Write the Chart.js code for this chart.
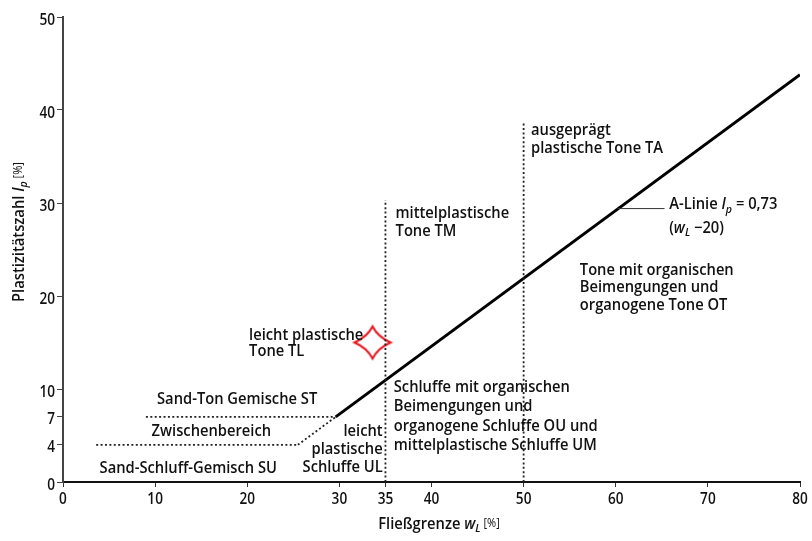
<!DOCTYPE html>
<html>
<head>
<meta charset="utf-8">
<script src="https://cdn.jsdelivr.net/npm/chart.js@4/dist/chart.umd.min.js"></script>
<style>
html,body{margin:0;padding:0;background:#fff;}
#wrap{width:812px;height:541px;position:relative;}
</style>
</head>
<body>
<div id="wrap"><canvas id="c" width="812" height="541"></canvas></div>
<script>
// ---- data ----
const xTickValues = [0, 10, 20, 30, 35, 40, 50, 60, 70, 80];
const yTickValues = [0, 4, 7, 10, 20, 30, 40, 50];
const aLineX = [29.6, 80];
const aLineY = [7, 43.8];
const aLineLowX = [25.5, 29.6];
const aLineLowY = [4, 7];
const line7X = [9, 29.6];
const line7Y = [7, 7];
const line4X = [3.6, 25.5];
const line4Y = [4, 4];
const v35X = [35, 35];
const v35Y = [0, 30.3];
const v50X = [50, 50];
const v50Y = [0, 38.8];
const calloutX = [60.2, 65.3];
const calloutY = [29.4, 29.4];
const markerX = [33.6];
const markerY = [15];

const pts = (xs, ys) => xs.map((x, i) => ({x, y: ys[i]}));

const FONT = "'Open Sans','DejaVu Sans',sans-serif";
const WEIGHT = '600';
const TXT = '#111';

// star point image
const star = document.createElement('canvas');
star.width = 42; star.height = 38;
(function(){
  const g = star.getContext('2d');
  const cx = 21, cy = 19, rx = 18, ry = 16, k = 5.5;
  g.beginPath();
  g.moveTo(cx, cy - ry);
  g.quadraticCurveTo(cx + k, cy - k, cx + rx, cy);
  g.quadraticCurveTo(cx + k, cy + k, cx, cy + ry);
  g.quadraticCurveTo(cx - k, cy + k, cx - rx, cy);
  g.quadraticCurveTo(cx - k, cy - k, cx, cy - ry);
  g.closePath();
  g.fillStyle = '#fff';
  g.fill();
  g.strokeStyle = '#e5121b';
  g.lineWidth = 2;
  g.lineJoin = 'miter';
  g.stroke();
})();

// rich text helper (horizontally condensed)
function fontFor(s, size) {
  const fs = s.sub ? size * 0.72 : (s.small ? size * 0.75 : size);
  return (s.italic ? 'italic ' : '') + (s.small ? '400 ' : WEIGHT + ' ') + fs + 'px ' + FONT;
}
function drawRich(ctx, x, y, segs, size, align, sx) {
  sx = sx || 0.92;
  let total = 0;
  segs.forEach(s => { ctx.font = fontFor(s, size); s._w = ctx.measureText(s.t).width; total += s._w; });
  let start = align === 'center' ? x - total * sx / 2 : (align === 'right' ? x - total * sx : x);
  ctx.save();
  ctx.translate(start, y);
  ctx.scale(sx, 1);
  ctx.textBaseline = 'middle';
  ctx.textAlign = 'left';
  let cx = 0;
  segs.forEach(s => {
    ctx.font = fontFor(s, size);
    ctx.fillText(s.t, cx, s.sub ? size * 0.3 : 0);
    cx += s._w;
  });
  ctx.restore();
}

const labels = [
  {x: 20.2, y: 15.8, t: 'leicht plastische', a: 'left'},
  {x: 20.2, y: 14.0, t: 'Tone TL', a: 'left'},
  {x: 36.1, y: 28.9, t: 'mittelplastische', a: 'left'},
  {x: 36.1, y: 26.9, t: 'Tone TM', a: 'left'},
  {x: 50.8, y: 37.8, t: 'ausgeprägt', a: 'left'},
  {x: 50.8, y: 35.9, t: 'plastische Tone TA', a: 'left'},
  {x: 56.1, y: 22.8, t: 'Tone mit organischen', a: 'left'},
  {x: 56.1, y: 20.9, t: 'Beimengungen und', a: 'left'},
  {x: 56.1, y: 19.0, t: 'organogene Tone OT', a: 'left'},
  {x: 35.9, y: 10.2, t: 'Schluffe mit organischen', a: 'left'},
  {x: 35.9, y: 8.1, t: 'Beimengungen und', a: 'left'},
  {x: 35.9, y: 6.0, t: 'organogene Schluffe OU und', a: 'left'},
  {x: 35.9, y: 3.9, t: 'mittelplastische Schluffe UM', a: 'left'},
  {x: 34.7, y: 5.4, t: 'leicht', a: 'right'},
  {x: 34.7, y: 3.5, t: 'plastische', a: 'right'},
  {x: 34.7, y: 1.6, t: 'Schluffe UL', a: 'right'},
  {x: 18.9, y: 8.9, t: 'Sand-Ton Gemische ST', a: 'center'},
  {x: 16.1, y: 5.4, t: 'Zwischenbereich', a: 'center'},
  {x: 13.6, y: 1.5, t: 'Sand-Schluff-Gemisch SU', a: 'center'}
];

const annot = {
  id: 'annot',
  afterDatasetsDraw(chart) {
    const ctx = chart.ctx, xs = chart.scales.x, ys = chart.scales.y;
    ctx.save();
    ctx.fillStyle = TXT;
    const size = 16;
    labels.forEach(l => {
      drawRich(ctx, xs.getPixelForValue(l.x), ys.getPixelForValue(l.y), [{t: l.t}], size, l.a);
    });
    // tick labels
    xTickValues.forEach(v => drawRich(ctx, xs.getPixelForValue(v), 499, [{t: String(v)}], 16, 'center', 0.85));
    yTickValues.forEach(v => drawRich(ctx, 55, ys.getPixelForValue(v) + 3, [{t: String(v)}], 16, 'right', 0.85));
    // A-Linie label
    const ax = xs.getPixelForValue(65.8);
    drawRich(ctx, ax, ys.getPixelForValue(29.8), [
      {t: 'A-Linie '}, {t: 'I', italic: true}, {t: 'p', italic: true, sub: true}, {t: ' = 0,73'}
    ], size, 'left');
    drawRich(ctx, ax, ys.getPixelForValue(27.3), [
      {t: '('}, {t: 'w', italic: true}, {t: 'L', italic: true, sub: true}, {t: ' −20)'}
    ], size, 'left');
    // axis titles
    ctx.save();
    ctx.translate(19, 232);
    ctx.rotate(-Math.PI / 2);
    drawRich(ctx, 0, 0, [
      {t: 'Plastizitätszahl '}, {t: 'I', italic: true}, {t: 'p', italic: true, sub: true}, {t: ' [%]', small: true}
    ], 16, 'center');
    ctx.restore();
    drawRich(ctx, 439, 524, [
      {t: 'Fließgrenze '}, {t: 'w', italic: true}, {t: 'L', italic: true, sub: true}, {t: ' [%]', small: true}
    ], 16, 'center');
    ctx.restore();
  }
};

const dotted = {borderColor: '#222', borderWidth: 1.8, borderDash: [2, 2.4], pointRadius: 0, fill: false, showLine: true, tension: 0};

new Chart(document.getElementById('c'), {
  type: 'scatter',
  data: {
    datasets: [
      Object.assign({label: 'line4', data: pts(line4X, line4Y)}, dotted),
      Object.assign({label: 'line7', data: pts(line7X, line7Y)}, dotted),
      Object.assign({label: 'aLow', data: pts(aLineLowX, aLineLowY)}, dotted),
      Object.assign({label: 'v35', data: pts(v35X, v35Y)}, dotted),
      Object.assign({label: 'v50', data: pts(v50X, v50Y)}, dotted),
      {label: 'callout', data: pts(calloutX, calloutY), borderColor: '#333', borderWidth: 1, pointRadius: 0, showLine: true},
      {label: 'A-Linie', data: pts(aLineX, aLineY), borderColor: '#000', borderWidth: 3, pointRadius: 0, showLine: true},
      {label: 'marker', data: pts(markerX, markerY), pointStyle: star, pointRadius: 18, showLine: false}
    ]
  },
  options: {
    responsive: false,
    animation: false,
    layout: {autoPadding: false, padding: {left: 0, right: 12, top: 17, bottom: 0}},
    plugins: {legend: {display: false}, tooltip: {enabled: false}, title: {display: false}},
    scales: {
      x: {
        type: 'linear', min: 0, max: 80,
        afterBuildTicks: s => { s.ticks = xTickValues.map(v => ({value: v})); },
        afterFit: s => { s.height = 59; },
        grid: {drawOnChartArea: false, drawTicks: true, tickLength: 5, color: '#333', lineWidth: 1},
        border: {color: '#111', width: 2},
        ticks: {display: false}
      },
      y: {
        type: 'linear', min: 0, max: 50,
        afterBuildTicks: s => { s.ticks = yTickValues.map(v => ({value: v})); },
        afterFit: s => { s.width = 63; },
        grid: {drawOnChartArea: false, drawTicks: true, tickLength: 6, color: '#444', lineWidth: 1},
        border: {color: '#444', width: 2},
        ticks: {display: false}
      }
    }
  },
  plugins: [annot]
});
</script>
</body>
</html>
